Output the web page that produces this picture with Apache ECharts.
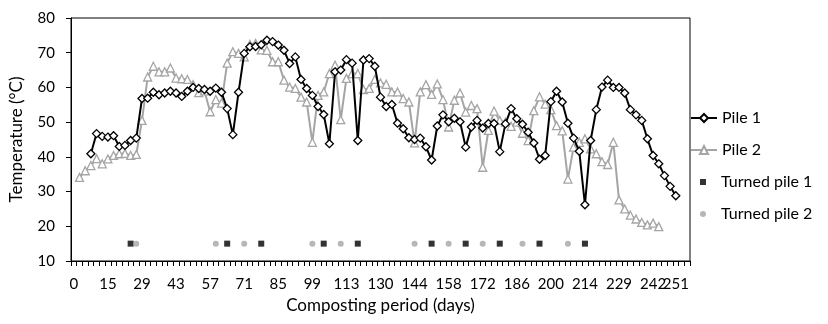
<!DOCTYPE html>
<html>
<head>
<meta charset="utf-8">
<script src="https://cdn.jsdelivr.net/npm/echarts@6/dist/echarts.min.js"></script>
<style>
  html, body { margin: 0; padding: 0; background: #ffffff; }
  #chart { width: 828px; height: 324px; }
</style>
</head>
<body>
<div id="chart"></div>
<script>
// measurement slots on the category axis (one per sampling day)
const categoryCount = 109;
const tickLabels = ['0', '15', '29', '43', '57', '71', '85', '99', '113', '130', '144', '158', '172', '186', '200', '214', '229', '242', '251'];
const tickLabelIndex = [0, 6, 12, 18, 24, 30, 36, 42, 48, 54, 60, 66, 72, 78, 84, 90, 96, 102, 106];

// temperature (°C) per slot, null = no reading
const pile1 = [
  null, null, null, 40.9, 46.7, 45.9, 45.7, 46.1, 43.0, 43.3,
  44.7, 45.4, 56.8, 56.9, 58.6, 57.9, 58.4, 58.9, 58.4, 57.4,
  58.9, 60.0, 59.7, 59.4, 58.9, 59.8, 58.6, 53.9, 46.4, 58.6,
  69.8, 71.7, 71.8, 72.3, 73.6, 73.2, 72.2, 70.7, 66.9, 68.8,
  62.3, 59.7, 57.7, 54.5, 52.2, 43.8, 64.5, 65.0, 68.0, 67.0,
  44.7, 67.9, 68.3, 66.1, 57.2, 54.5, 55.1, 49.7, 48.1, 45.5,
  45.0, 45.4, 42.9, 39.1, 48.9, 52.1, 50.1, 51.1, 50.1, 42.8,
  48.6, 50.5, 48.3, 49.6, 49.6, 41.5, 49.5, 53.9, 51.0, 49.4,
  47.1, 44.0, 39.3, 40.4, 55.9, 58.9, 55.8, 49.7, 45.4, 41.6,
  26.2, 44.7, 53.6, 60.1, 62.1, 60.0, 60.0, 58.4, 53.6, 52.1,
  50.5, 45.2, 40.4, 38.0, 34.6, 31.5, 28.8, null, null
];
const pile2 = [
  null, 34.1, 36.0, 37.5, 39.5, 38.0, 39.4, 40.4, 40.9, 41.0,
  40.4, 40.7, 50.5, 63.0, 66.1, 64.5, 64.5, 65.6, 62.7, 62.5,
  62.3, 60.8, 58.5, 59.0, 53.0, 56.5, 55.5, 67.0, 70.3, 69.8,
  68.8, 72.4, 72.7, 70.8, 70.7, 67.4, 67.4, 62.1, 60.1, 59.7,
  57.2, 55.8, 44.2, 57.7, 58.7, 64.0, 66.4, 50.7, 62.6, 64.0,
  64.0, 59.4, 59.7, 62.3, 61.3, 60.9, 58.7, 58.7, 56.8, 55.8,
  44.0, 58.7, 60.8, 58.0, 61.0, 56.5, 48.6, 56.3, 58.4, 52.9,
  54.8, 53.9, 37.0, 47.6, 53.2, 50.5, 50.0, 48.8, 50.0, 46.8,
  44.7, 53.3, 57.3, 55.2, 53.6, 49.0, 47.5, 33.6, 42.8, 44.2,
  45.2, 42.3, 40.9, 38.6, 37.8, 44.2, 27.6, 25.0, 23.2, 22.1,
  21.1, 20.4, 20.9, 19.9, null, null, null, null, null
];

// turning events, drawn as marks at 15 °C
const turned1Index = [10, 27, 33, 44, 50, 63, 69, 75, 82, 90];
const turned2Index = [11, 25, 30, 42, 47, 60, 66, 72, 79, 87];
const turnedLevel = 15;

const FONT = 'Lato, "Open Sans", sans-serif';
const GREY = '#a5a5a5';

// legend marks for the turning series: a 26x10 box with the mark in its middle
const squareIcon = 'path://M0,0M26,10M10,2L16,2L16,8L10,8Z';
const dotIcon = 'path://M0,0M26,10M10,5A3,3,0,1,1,16,5A3,3,0,1,1,10,5Z';

const categories = Array.from({ length: categoryCount }, (_, i) => String(i));
const labelFor = new Map(tickLabelIndex.map((idx, k) => [String(idx), tickLabels[k]]));

const chart = echarts.init(document.getElementById('chart'), null, { renderer: 'canvas' });

function legendAt(name, top, icon) {
  return {
    data: [icon ? { name, icon } : name],
    left: 685,
    top,
    orient: 'vertical',
    itemWidth: 26,
    itemHeight: 10,
    selectedMode: false,
    textStyle: { fontFamily: FONT, fontSize: 16, color: '#000' },
  };
}

chart.setOption({
  animation: false,
  backgroundColor: '#ffffff',
  grid: {
    left: 68, right: 138, top: 18, bottom: 63,
    show: true, borderColor: '#000', borderWidth: 1, backgroundColor: 'transparent',
  },
  legend: [
    legendAt('Pile 1', 105),
    legendAt('Pile 2', 137),
    legendAt('Turned pile 1', 169, squareIcon),
    legendAt('Turned pile 2', 201, dotIcon),
  ],
  xAxis: {
    type: 'category',
    data: categories,
    boundaryGap: true,
    name: 'Composting period (days)',
    nameLocation: 'middle',
    nameGap: 33,
    nameTextStyle: { fontFamily: FONT, fontSize: 17, color: '#000' },
    axisLine: { lineStyle: { color: '#000', width: 1 } },
    axisTick: { show: true, interval: 0, length: 5, lineStyle: { color: '#000' } },
    axisLabel: {
      interval: 0,
      margin: 16,
      fontFamily: FONT, fontSize: 15, color: '#000',
      formatter: (v) => labelFor.get(v) || '',
    },
    splitLine: { show: false },
  },
  yAxis: {
    type: 'value',
    min: 10, max: 80, interval: 10,
    name: 'Temperature (°C)',
    nameLocation: 'middle',
    nameGap: 46,
    nameRotate: 90,
    nameTextStyle: { fontFamily: FONT, fontSize: 17, color: '#000' },
    axisLine: { show: true, lineStyle: { color: '#000', width: 1 } },
    axisTick: { show: true, length: 5, lineStyle: { color: '#000' } },
    axisLabel: { margin: 16, fontFamily: FONT, fontSize: 15, color: '#000' },
    splitLine: { show: false },
  },
  series: [
    {
      name: 'Pile 2',
      type: 'line',
      data: pile2,
      connectNulls: true,
      showAllSymbol: true,
      symbol: 'triangle',
      symbolSize: 8,
      lineStyle: { color: GREY, width: 2 },
      itemStyle: { color: '#fff', borderColor: GREY, borderWidth: 1.3 },
      z: 2,
    },
    {
      name: 'Pile 1',
      type: 'line',
      data: pile1,
      connectNulls: true,
      showAllSymbol: true,
      symbol: 'diamond',
      symbolSize: 8,
      lineStyle: { color: '#000', width: 2 },
      itemStyle: { color: '#fff', borderColor: '#000', borderWidth: 1.3 },
      z: 3,
    },
    {
      name: 'Turned pile 1',
      type: 'scatter',
      symbol: 'rect',
      symbolSize: 6,
      data: turned1Index.map((i) => [i, turnedLevel]),
      itemStyle: { color: '#000' },
      z: 4,
    },
    {
      name: 'Turned pile 2',
      type: 'scatter',
      symbol: 'circle',
      symbolSize: 6,
      data: turned2Index.map((i) => [i, turnedLevel]),
      itemStyle: { color: GREY },
      z: 4,
    },
  ],
});
</script>
</body>
</html>
